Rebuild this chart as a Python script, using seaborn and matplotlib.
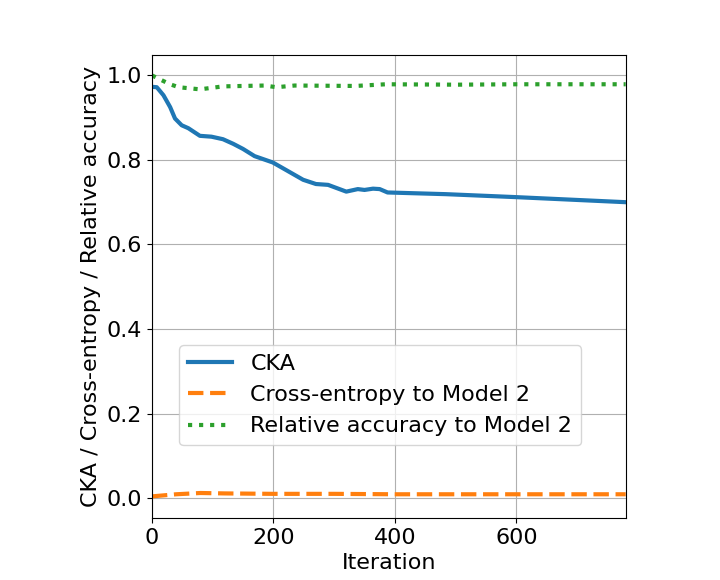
import numpy as np
import seaborn as sns
import pandas as pd
import matplotlib.pyplot as plt

# values
cka_iter = [0, 8, 19, 30, 38, 49, 60, 79, 98, 117, 134, 150, 169, 199, 221, 249, 270, 290,
            320, 339, 350, 364, 375, 388, 484, 599, 780]
cka_vals = [0.973, 0.972, 0.953, 0.925, 0.898, 0.882, 0.875, 0.857, 0.855, 0.849, 0.838, 0.826,
            0.809, 0.794, 0.776, 0.753, 0.743, 0.741, 0.725, 0.731, 0.729, 0.732, 0.731, 0.723,
            0.719, 0.712, 0.700]

ce_iter = [0, 40, 80, 120, 200, 300, 400, 500, 600, 700, 780]
ce_vals = [0.004, 0.009, 0.012, 0.011, 0.010, 0.010, 0.009, 0.009, 0.009, 0.009, 0.009]

acc_iter = [0, 14, 30, 44, 79, 117, 150, 186, 205, 235, 335, 385, 500, 600, 700, 780]
acc_vals = [1.0, 0.99, 0.979, 0.972, 0.967, 0.974, 0.975, 0.976, 0.972, 0.976, 0.975, 0.979,
            0.978, 0.979, 0.979, 0.979]

df_cka = pd.DataFrame({'Iteration': cka_iter, 'value': cka_vals})
df_ce = pd.DataFrame({'Iteration': ce_iter, 'value': ce_vals})
df_acc = pd.DataFrame({'Iteration': acc_iter, 'value': acc_vals})

plt.rcParams['font.size'] = 16
fig = plt.figure(figsize=(7.2, 5.8), dpi=100)
ax = fig.add_axes([0.211, 0.107, 0.658, 0.798])

sns.lineplot(data=df_cka, x='Iteration', y='value', color='#1f77b4', linewidth=3,
             label='CKA', ax=ax)
sns.lineplot(data=df_ce, x='Iteration', y='value', color='#ff7f0e', linewidth=3,
             linestyle='--', label='Cross-entropy to Model 2', ax=ax)
sns.lineplot(data=df_acc, x='Iteration', y='value', color='#2ca02c', linewidth=3,
             linestyle=':', label='Relative accuracy to Model 2', ax=ax)

ax.set_xlim(0, 780)
ax.set_ylim(-0.047, 1.048)
ax.set_xticks([0, 200, 400, 600])
ax.set_yticks([0.0, 0.2, 0.4, 0.6, 0.8, 1.0])
ax.grid(True)
ax.set_xlabel('Iteration')
ax.set_ylabel('CKA / Cross-entropy / Relative accuracy')
ax.legend(loc='lower left', bbox_to_anchor=(0.034, 0.133))

plt.savefig('out.png')
